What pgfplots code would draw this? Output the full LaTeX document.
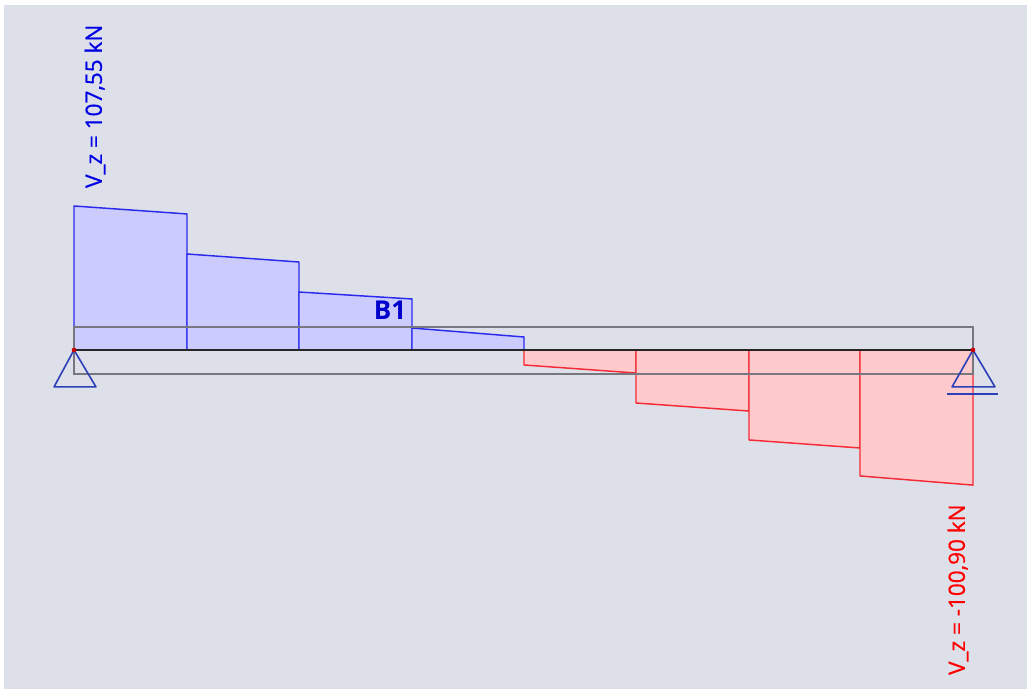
\documentclass[border=0pt]{standalone}
\usepackage{pgfplots}
\pgfplotsset{compat=1.18}
\usepackage{fontspec}
\setmainfont{Open Sans}
\newfontfamily\lab[FakeBold=0.5]{Open Sans}
\definecolor{panel}{HTML}{DDE0E9}
\definecolor{posfill}{HTML}{CBCBFD}
\definecolor{negfill}{HTML}{FFCACC}
\definecolor{posline}{HTML}{2A2AEE}
\definecolor{negline}{HTML}{F52A35}
\definecolor{support}{HTML}{2B3FB8}
\definecolor{frameline}{HTML}{77777F}
\begin{document}
\begin{tikzpicture}
\begin{axis}[
  scale only axis, width=770.25pt, height=516.75pt,
  xmin=0, xmax=1027, ymin=-253.2, ymax=261.4,
  axis lines=none, clip=true,
  axis background/.style={fill=white},
]
% panel
\addplot[draw=none, fill=panel] coordinates {(4,-253.2) (1027,-253.2) (1027,257.7) (4,257.7)} -- cycle;
% positive shear blocks
\addplot[fill=posfill, draw=posline, line width=1.1pt, line join=round] coordinates {(74,0) (74,107.55) (187,101.6) (187,0)} -- cycle;
\addplot[fill=posfill, draw=posline, line width=1.1pt, line join=round] coordinates {(187,0) (187,71.7) (299,65.7) (299,0)} -- cycle;
\addplot[fill=posfill, draw=posline, line width=1.1pt, line join=round] coordinates {(299,0) (299,43.3) (412,38.1) (412,0)} -- cycle;
\addplot[fill=posfill, draw=posline, line width=1.1pt, line join=round] coordinates {(412,0) (412,16.4) (524,9.7) (524,0)} -- cycle;
% negative shear blocks
\addplot[fill=negfill, draw=negline, line width=1.1pt, line join=round] coordinates {(524,0) (524,-11.2) (636,-17.2) (636,0)} -- cycle;
\addplot[fill=negfill, draw=negline, line width=1.1pt, line join=round] coordinates {(636,0) (636,-39.6) (749,-45.6) (749,0)} -- cycle;
\addplot[fill=negfill, draw=negline, line width=1.1pt, line join=round] coordinates {(749,0) (749,-67.2) (860,-73.2) (860,0)} -- cycle;
\addplot[fill=negfill, draw=negline, line width=1.1pt, line join=round] coordinates {(860,0) (860,-94.1) (973,-100.9) (973,0)} -- cycle;
% section outline and member
\addplot[draw=frameline, line width=1pt] coordinates {(74,17.2) (973,17.2) (973,-17.9) (74,-17.9)} -- cycle;
\addplot[draw=black!85, line width=1.6pt] coordinates {(74,0) (973,0)};
% supports
\addplot[draw=support, line width=1.2pt, line join=round] coordinates {(74,0) (54,-27.6) (96,-27.6)} -- cycle;
\addplot[draw=support, line width=1.2pt, line join=round] coordinates {(973,0) (952,-27.6) (995,-27.6)} -- cycle;
\addplot[draw=support, line width=1.1pt] coordinates {(947,-32.9) (998,-32.9)};
% pins
\addplot[only marks, mark=*, mark size=1.5pt, color=red!80!black] coordinates {(74,0) (973,0)};
\node[text=blue!80!black, font=\bfseries\fontsize{19.5}{20}\selectfont, inner sep=0pt] at (axis cs:390,30) {B1};
\node[text=blue!90!black, rotate=90, font=\lab\fontsize{16.9}{17}\selectfont, inner sep=0pt] at (axis cs:95,182) {V\_z = 107,55 kN};
\node[text=red, rotate=90, font=\lab\fontsize{16.9}{17}\selectfont, inner sep=0pt] at (axis cs:958,-179) {V\_z = -100,90 kN};
\end{axis}
\end{tikzpicture}
\end{document}
